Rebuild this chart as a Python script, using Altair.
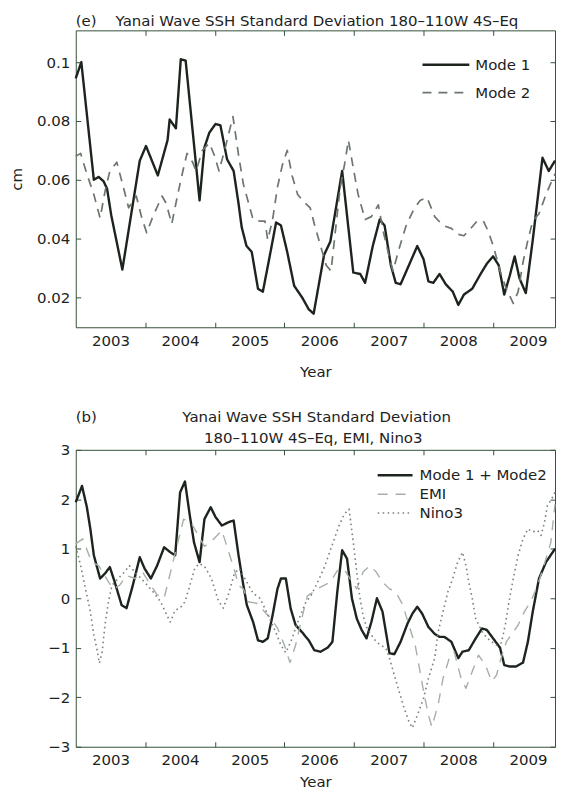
import altair as alt
import pandas as pd

# ---------------- data ----------------
# Panel (e): Yanai wave SSH standard deviation, 180-110W 4S-Eq
mode1_t = [2002.50, 2002.58, 2002.76, 2002.83, 2002.90, 2002.95, 2003.01, 2003.17, 2003.42, 2003.51,
           2003.68, 2003.82, 2003.85, 2003.94, 2004.01, 2004.08, 2004.28, 2004.35, 2004.42, 2004.51,
           2004.58, 2004.675, 2004.77, 2004.84, 2004.885, 2004.955, 2005.03, 2005.12, 2005.19, 2005.28,
           2005.38, 2005.45, 2005.54, 2005.64, 2005.755, 2005.85, 2005.92, 2006.07, 2006.16, 2006.33,
           2006.49, 2006.59, 2006.66, 2006.77, 2006.87, 2006.94, 2007.03, 2007.10, 2007.17, 2007.29,
           2007.41, 2007.50, 2007.57, 2007.64, 2007.73, 2007.82, 2007.92, 2008.00, 2008.08, 2008.20,
           2008.32, 2008.41, 2008.50, 2008.58, 2008.66, 2008.74, 2008.81, 2008.88, 2008.97, 2009.07,
           2009.21, 2009.30, 2009.39]
mode1_v = [0.0945, 0.100, 0.060, 0.061, 0.0595, 0.057, 0.048, 0.0295, 0.0665, 0.0715,
           0.0615, 0.0735, 0.0805, 0.0775, 0.101, 0.1005, 0.053, 0.071, 0.076, 0.079,
           0.0785, 0.067, 0.063, 0.052, 0.044, 0.0375, 0.0355, 0.023, 0.022, 0.033,
           0.0455, 0.0445, 0.0355, 0.024, 0.020, 0.016, 0.0145, 0.0345, 0.039, 0.063,
           0.0285, 0.028, 0.025, 0.0375, 0.0465, 0.0445, 0.031, 0.025, 0.0245, 0.031,
           0.0375, 0.033, 0.0255, 0.025, 0.028, 0.0245, 0.022, 0.0175, 0.021, 0.023,
           0.028, 0.0315, 0.034, 0.031, 0.021, 0.0275, 0.034, 0.0265, 0.0215, 0.0395,
           0.0675, 0.063, 0.0665]

mode2_t = [2002.50, 2002.57, 2002.66, 2002.76, 2002.85, 2002.92, 2002.99, 2003.09, 2003.19, 2003.26,
           2003.37, 2003.45, 2003.52, 2003.60, 2003.74, 2003.80, 2003.88, 2003.97, 2004.04, 2004.10,
           2004.18, 2004.23, 2004.32, 2004.42, 2004.49, 2004.56, 2004.65, 2004.76, 2004.84, 2004.91,
           2004.98, 2005.05, 2005.14, 2005.22, 2005.26, 2005.33, 2005.40, 2005.47, 2005.54, 2005.61,
           2005.69, 2005.78, 2005.87, 2005.93, 2006.02, 2006.10, 2006.17, 2006.26, 2006.30, 2006.37,
           2006.42, 2006.49, 2006.56, 2006.66, 2006.75, 2006.85, 2006.92, 2007.01, 2007.06, 2007.16,
           2007.25, 2007.36, 2007.45, 2007.55, 2007.66, 2007.78, 2007.90, 2007.99, 2008.08, 2008.18,
           2008.27, 2008.36, 2008.43, 2008.51, 2008.60, 2008.69, 2008.79, 2008.86, 2008.93, 2009.00,
           2009.07, 2009.16, 2009.26, 2009.35, 2009.39]
mode2_v = [0.068, 0.069, 0.062, 0.055, 0.047, 0.056, 0.063, 0.066, 0.057, 0.0505,
           0.0545, 0.047, 0.042, 0.047, 0.0545, 0.052, 0.045, 0.0555, 0.063, 0.069,
           0.066, 0.063, 0.070, 0.0725, 0.0685, 0.063, 0.071, 0.0815, 0.0685, 0.0585,
           0.0525, 0.0465, 0.046, 0.046, 0.0395, 0.0465, 0.0575, 0.065, 0.070, 0.0615,
           0.055, 0.0525, 0.0505, 0.045, 0.0375, 0.031, 0.029, 0.0485, 0.057, 0.066,
           0.0735, 0.064, 0.055, 0.0465, 0.0475, 0.0515, 0.0425, 0.0335, 0.029, 0.0375,
           0.0445, 0.050, 0.053, 0.054, 0.0475, 0.0445, 0.0435, 0.0415, 0.041, 0.0435,
           0.046, 0.046, 0.0425, 0.037, 0.029, 0.023, 0.018, 0.022, 0.032, 0.0395,
           0.046, 0.0485, 0.055, 0.060, 0.062]

# Panel (b): Mode 1 + Mode 2, EMI, Nino3 (standardised)
modesum_t = [2002.50, 2002.59, 2002.66, 2002.71, 2002.76, 2002.85, 2002.92, 2002.99, 2003.06, 2003.16,
             2003.23, 2003.32, 2003.42, 2003.49, 2003.58, 2003.67, 2003.77, 2003.86, 2003.93, 2004.00,
             2004.07, 2004.14, 2004.20, 2004.28, 2004.35, 2004.44, 2004.51, 2004.60, 2004.70, 2004.77,
             2004.84, 2004.91, 2004.96, 2005.05, 2005.12, 2005.19, 2005.26, 2005.33, 2005.40, 2005.45,
             2005.52, 2005.59, 2005.66, 2005.75, 2005.85, 2005.93, 2006.02, 2006.12, 2006.19, 2006.26,
             2006.33, 2006.40, 2006.47, 2006.54, 2006.61, 2006.68, 2006.75, 2006.83, 2006.91, 2007.01,
             2007.08, 2007.17, 2007.27, 2007.34, 2007.41, 2007.48, 2007.57, 2007.66, 2007.73, 2007.80,
             2007.90, 2008.00, 2008.06, 2008.15, 2008.25, 2008.34, 2008.41, 2008.50, 2008.60, 2008.66,
             2008.74, 2008.83, 2008.93, 2009.00, 2009.07, 2009.16, 2009.26, 2009.39]
modesum_v = [1.94, 2.27, 1.84, 1.40, 0.87, 0.40, 0.50, 0.63, 0.33, -0.14,
             -0.20, 0.26, 0.83, 0.60, 0.40, 0.66, 1.03, 0.93, 0.87, 2.14,
             2.36, 1.67, 1.13, 0.73, 1.60, 1.84, 1.64, 1.47, 1.54, 1.57,
             0.87, 0.26, -0.14, -0.48, -0.85, -0.88, -0.81, -0.34, 0.19, 0.40,
             0.40, -0.21, -0.54, -0.68, -0.85, -1.05, -1.08, -1.00, -0.88, 0.13,
             0.97, 0.80, 0.00, -0.41, -0.64, -0.81, -0.48, 0.00, -0.27, -1.11,
             -1.13, -0.88, -0.51, -0.31, -0.17, -0.31, -0.58, -0.72, -0.78, -0.78,
             -0.88, -1.21, -1.08, -1.05, -0.81, -0.61, -0.64, -0.81, -1.00, -1.35,
             -1.38, -1.38, -1.30, -0.88, -0.27, 0.40, 0.73, 1.00]

emi_t = [2002.50, 2002.60, 2002.73, 2002.83, 2002.97, 2003.04, 2003.13, 2003.23, 2003.35, 2003.46,
         2003.58, 2003.67, 2003.77, 2003.84, 2003.91, 2003.98, 2004.05, 2004.17, 2004.25, 2004.35,
         2004.45, 2004.60, 2004.70, 2004.79, 2004.84, 2004.91, 2004.98, 2005.10, 2005.20, 2005.30,
         2005.40, 2005.50, 2005.58, 2005.66, 2005.75, 2005.83, 2005.92, 2005.97, 2006.07, 2006.16,
         2006.26, 2006.35, 2006.44, 2006.54, 2006.63, 2006.73, 2006.82, 2006.91, 2007.01, 2007.10,
         2007.20, 2007.29, 2007.38, 2007.45, 2007.50, 2007.57, 2007.62, 2007.71, 2007.78, 2007.87,
         2007.94, 2008.04, 2008.11, 2008.20, 2008.29, 2008.39, 2008.48, 2008.55, 2008.60, 2008.69,
         2008.79, 2008.86, 2008.95, 2009.04, 2009.14, 2009.23, 2009.33, 2009.39]
emi_v = [1.10, 1.20, 0.73, 0.66, 0.33, 0.19, 0.26, 0.46, 0.40, 0.53,
         0.26, 0.07, 0.00, 0.40, 0.80, 1.20, 1.60, 1.50, 1.30, 1.05,
         1.15, 1.37, 0.93, 0.53, 0.26, 0.19, -0.07, -0.10, -0.25, -0.40,
         -0.60, -0.95, -1.30, -0.95, -0.40, 0.05, 0.13, 0.19, 0.26, 0.33,
         0.56, 0.60, 0.40, 0.19, 0.53, 0.66, 0.53, 0.33, 0.19, 0.13,
         -0.13, -0.54, -0.95, -1.48, -1.88, -2.36, -2.60, -2.15, -1.62, -1.21,
         -1.08, -1.62, -1.82, -1.48, -1.15, -1.35, -1.68, -1.55, -1.28, -0.88,
         -0.68, -0.54, -0.27, -0.07, 0.26, 0.66, 1.13, 1.90]

nino3_t = [2002.50, 2002.57, 2002.64, 2002.71, 2002.76, 2002.80, 2002.84, 2002.88, 2002.92, 2002.97,
           2003.02, 2003.11, 2003.20, 2003.27, 2003.35, 2003.44, 2003.53, 2003.63, 2003.72, 2003.81,
           2003.86, 2003.93, 2004.00, 2004.07, 2004.14, 2004.21, 2004.27, 2004.35, 2004.45, 2004.55,
           2004.62, 2004.70, 2004.78, 2004.85, 2004.95, 2005.05, 2005.15, 2005.25, 2005.35, 2005.45,
           2005.52, 2005.60, 2005.70, 2005.80, 2005.88, 2005.97, 2006.08, 2006.18, 2006.28, 2006.36,
           2006.43, 2006.49, 2006.54, 2006.58, 2006.63, 2006.68, 2006.75, 2006.82, 2006.89, 2006.96,
           2007.01, 2007.08, 2007.15, 2007.22, 2007.29, 2007.34, 2007.43, 2007.50, 2007.57, 2007.66,
           2007.71, 2007.78, 2007.85, 2007.92, 2007.99, 2008.06, 2008.11, 2008.15, 2008.20, 2008.25,
           2008.35, 2008.45, 2008.55, 2008.62, 2008.68, 2008.72, 2008.79, 2008.86, 2008.93, 2009.00,
           2009.07, 2009.14, 2009.19, 2009.24, 2009.28, 2009.34, 2009.39]
nino3_v = [1.05, 0.66, 0.19, -0.27, -0.74, -1.00, -1.31, -1.08, -0.54, -0.07,
           0.26, 0.40, 0.53, 0.66, 0.53, 0.40, 0.26, 0.10, -0.07, -0.34,
           -0.48, -0.24, -0.20, -0.07, 0.26, 0.60, 0.70, 0.65, 0.40, -0.05,
           -0.20, 0.10, 0.50, 0.60, 0.35, 0.10, 0.00, -0.30, -0.60, -0.95,
           -1.10, -0.85, -0.45, -0.10, 0.05, 0.30, 0.65, 1.05, 1.45, 1.70,
           1.80, 1.13, 0.53, 0.06, -0.34, -0.58, -0.74, -0.88, -0.95, -1.01,
           -1.21, -1.55, -1.89, -2.22, -2.49, -2.62, -2.29, -2.02, -1.62, -1.21,
           -0.68, -0.27, 0.13, 0.40, 0.73, 0.93, 0.66, 0.33, 0.00, -0.41,
           -0.70, -0.85, -0.95, -0.90, -0.50, -0.14, 0.40, 0.87, 1.20, 1.40,
           1.34, 1.37, 1.27, 1.54, 1.87, 2.00, 2.14]

year_labels = [2003, 2004, 2005, 2006, 2007, 2008, 2009]
year_ticks = [2003.5, 2004.5, 2005.5, 2006.5, 2007.5, 2008.5]
top_yvals = [0.02, 0.04, 0.06, 0.08, 0.1]
bot_yvals = [-3, -2, -1, 0, 1, 2, 3]

# ---------------- style ----------------
FONT = "DejaVu Sans"
INK = "#1c231d"
FRAME = "#34503a"
W = 481
X_DOMAIN = [2002.5, 2009.39]
NB = "\u00a0"
ZW = "\u200b"
SYM = 15  # legend symbol box (px)


def legend_path(length):
    # horizontal line starting at the left edge of a SYM x SYM symbol box
    units = length / (SYM / 2.0)
    return "M-1,0H%.3f" % (units - 1)


def panel(series, field, colors, dashes, widths, ydomain, yvals, yfmt, height, ytitle,
          x_title_pad, title, leg_x, leg_y, sym_len, row_pad, label_gap, sw_expr):
    names = [s[0] for s in series]
    xs = alt.Scale(domain=X_DOMAIN, nice=False, zero=False)
    ys = alt.Scale(domain=ydomain, nice=False, zero=False)
    cscale = alt.Scale(domain=names, range=colors)
    dscale = alt.Scale(domain=names, range=dashes)
    legend = alt.Legend(title=None, orient="none", legendX=leg_x, legendY=leg_y,
                        symbolType=legend_path(sym_len), symbolSize=SYM * SYM,
                        symbolFillColor="transparent",
                        rowPadding=row_pad, labelOffset=sym_len - SYM + label_gap, padding=0,
                        labelFont=FONT, labelFontSize=15, labelColor=INK,
                        symbolStrokeWidth=alt.ExprRef(expr=sw_expr))
    layers = []
    for i, (name, t, v) in enumerate(series):
        if i == 0:
            xax = alt.Axis(orient="bottom", values=year_labels, format="d", ticks=False,
                           tickSize=0, domain=False, grid=False, labelPadding=6,
                           labelFlush=False, title="Year", titlePadding=x_title_pad)
            yax_kw = dict(orient="left", values=yvals, format=yfmt, ticks=False, tickSize=0,
                          domain=False, grid=False, labelPadding=6, labelFlush=False)
            if ytitle:
                yax = alt.Axis(title=ytitle, titlePadding=12, **yax_kw)
            else:
                yax = alt.Axis(title=None, **yax_kw)
        else:
            xax = None
            yax = None
        df = pd.DataFrame({"t": t, "v": v, field: name})
        layers.append(
            alt.Chart(df).mark_line(strokeWidth=widths[i], strokeJoin="round").encode(
                x=alt.X("t:Q", scale=xs, axis=xax),
                y=alt.Y("v:Q", scale=ys, axis=yax),
                color=alt.Color(field + ":N", scale=cscale, legend=legend),
                strokeDash=alt.StrokeDash(field + ":N", scale=dscale, legend=legend),
            )
        )
    tk = dict(labels=False, domain=False, grid=False, ticks=True, tickSize=5,
              tickColor=FRAME, tickWidth=1, title=None)
    base = pd.DataFrame({"t": series[0][1], "v": series[0][2]})
    # inward ticks along the bottom and the left edge
    ticks_a = alt.Chart(base).mark_line(opacity=0).encode(
        x=alt.X("t:Q", scale=xs, axis=alt.Axis(orient="top", offset=-height, values=year_ticks, **tk)),
        y=alt.Y("v:Q", scale=ys, axis=alt.Axis(orient="right", offset=-W, values=yvals, **tk)),
    )
    # inward ticks along the top and the right edge
    ticks_b = alt.Chart(base).mark_line(opacity=0).encode(
        x=alt.X("t:Q", scale=xs, axis=alt.Axis(orient="bottom", offset=-height, values=year_ticks, **tk)),
        y=alt.Y("v:Q", scale=ys, axis=alt.Axis(orient="left", offset=-W, values=yvals, **tk)),
    )
    return (
        alt.layer(ticks_a, ticks_b, *layers)
        .resolve_axis(x="independent", y="independent")
        .properties(width=W, height=height, title=title)
    )


top = panel(
    series=[("Mode 1", mode1_t, mode1_v), ("Mode 2", mode2_t, mode2_v)],
    field="mode",
    colors=["#1c241d", "#6c766d"],
    dashes=[[1, 0], [9, 7]],
    widths=[2.4, 1.7],
    ydomain=[0.0099, 0.1108], yvals=top_yvals, yfmt="~g", height=298, ytitle="cm",
    x_title_pad=16,
    title=alt.TitleParams(
        text="(e)" + NB * 4 + "Yanai Wave SSH Standard Deviation 180\u2013110W 4S\u2013Eq",
        anchor="start", frame="group", offset=1),
    leg_x=348, leg_y=27, sym_len=47, row_pad=12, label_gap=6,
    sw_expr="datum.value === 'Mode 1' ? 2.4 : 1.7",
)

bottom = panel(
    series=[("Mode 1 + Mode2", modesum_t, modesum_v), ("EMI", emi_t, emi_v),
            ("Nino3", nino3_t, nino3_v)],
    field="index",
    colors=["#1c241d", "#a6b0a7", "#7a847b"],
    dashes=[[1, 0], [10, 8], [1.6, 3.4]],
    widths=[2.4, 1.4, 1.6],
    ydomain=[-3, 3], yvals=bot_yvals, yfmt="d", height=298, ytitle=None,
    x_title_pad=7,
    title=alt.TitleParams(
        text=["(b)" + NB * 18 + "Yanai Wave SSH Standard Deviation",
              ZW + NB * 27 + "180\u2013110W 4S\u2013Eq, EMI, Nino3"],
        anchor="start", frame="group", offset=-3, lineHeight=21),
    leg_x=303, leg_y=18, sym_len=35, row_pad=3, label_gap=7,
    sw_expr="datum.value === 'Mode 1 + Mode2' ? 2.4 : 1.5",
)

chart = (
    alt.vconcat(top, bottom, spacing=123, bounds="flush")
    .resolve_scale(color="independent", strokeDash="independent")
    .resolve_legend(color="independent", strokeDash="independent")
    .properties(padding={"left": 1, "top": 4, "right": 0, "bottom": 0})
    .configure(font=FONT)
    .configure_view(stroke=FRAME, strokeWidth=1)
    .configure_axis(labelFont=FONT, labelFontSize=15, labelColor=INK, titleFont=FONT,
                    titleFontSize=15, titleFontWeight="normal", titleColor=INK, grid=False)
    .configure_title(font=FONT, fontSize=15, fontWeight="normal", color=INK)
    .configure_legend(labelFont=FONT, labelFontSize=15, labelColor=INK)
)

chart.save("out.html", embed_options={"renderer": "svg", "actions": False})
